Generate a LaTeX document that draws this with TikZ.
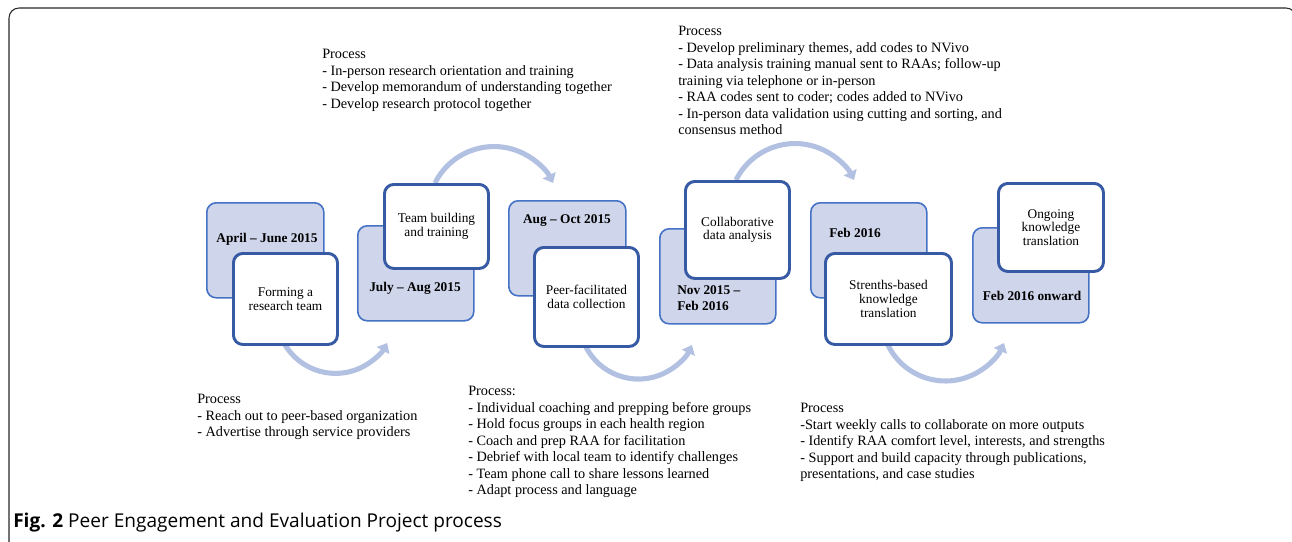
\documentclass[tikz,border=0pt]{standalone}
\usepackage{fontspec}
\setmainfont{Liberation Serif}
\newfontfamily\capfont{Open Sans}
\usetikzlibrary{arrows.meta}
\usetikzlibrary{positioning}

\definecolor{backfill}{RGB}{207,213,234}
\definecolor{backline}{RGB}{68,114,196}
\definecolor{frontline}{RGB}{55,90,165}
\definecolor{flowcol}{RGB}{178,193,226}
\definecolor{framecol}{RGB}{40,40,40}

\begin{document}
\begin{tikzpicture} [
  x=0.75pt, y=0.75pt,
  every node/.style={font=\fontsize{10}{10.2}\selectfont},
  back/.style={draw=backline, line width=1.2pt, fill=backfill, rounded corners=7pt,
    anchor=north west, minimum width=87pt, minimum height=71.25pt},
  front/.style={draw=frontline, line width=2.2pt, fill=white, rounded corners=7pt,
    anchor=north west, align=center, inner sep=0},
  datelbl/.style={font=\fontsize{10}{12.4}\selectfont\bfseries, inner sep=0},
  proc/.style={anchor=north west, align=left, inner sep=0, font=\fontsize{10.7}{12.4}\selectfont},
  flow/.style={draw=flowcol, line width=3.8pt, -{Triangle[length=6.5pt,width=10.5pt]}}
  ]
  \useasboundingbox (0,0) rectangle (1292,-542);
  \begin{scope}
    \clip (0,0) rectangle (1292,-542);
    \draw[framecol, line width=0.8pt, rounded corners=7.5pt] (9,-8) rectangle (1296,-560);
  \end{scope}

  % back boxes (dates)
  \node [back, minimum width=87.75pt] (b1) at (206,-202) {};
  \node [back] (b2) at (357,-225) {};
  \node [back, minimum width=87.75pt] (b3) at (508,-200) {};
  \node [back] (b4) at (659,-228) {};
  \node [back] (b5) at (810,-202) {};
  \node [back] (b6) at (972,-227) {};

  \node [datelbl] (d1) at (267,-239) {April -- June 2015};
  \node [datelbl] (d2) at (415,-288) {July -- Aug 2015};
  \node [datelbl] (d3) at (567,-221) {Aug -- Oct 2015};
  \node [datelbl, anchor=west, align=left] (d4) at (677,-298) {Nov 2015 --\\Feb 2016};
  \node [datelbl] (d5) at (855,-233) {Feb 2016};
  \node [datelbl] (d6) at (1032,-296) {Feb 2016 onward};

  % arrows between the steps
  \draw [flow] (284,-343) coordinate (s1) arc[start angle=209, end angle=331, radius=44.25pt];
  \draw [flow] (435,-183) coordinate (s2) arc[start angle=153.4, end angle=26.6, radius=49.5pt];
  \draw [flow] (585,-345) coordinate (s3) arc[start angle=205, end angle=335, radius=44.25pt];
  \draw [flow] (736,-180) coordinate (s4) arc[start angle=153.4, end angle=26.6, radius=49.5pt];
  \draw [flow] (887,-343) coordinate (s5) arc[start angle=204, end angle=336, radius=48pt];

  % front boxes (steps)
  \node [front, minimum width=78pt, minimum height=68.25pt] (f1) at (232,-252) {Forming a\\research team};
  \node [front, minimum width=78pt, minimum height=63pt] (f2) at (383,-183) {Team building\\and training};
  \node [front, minimum width=78pt, minimum height=74.25pt] (f3) at (533,-246) {Peer-facilitated\\data collection};
  \node [front, minimum width=78pt, minimum height=72.75pt] (f4) at (684,-180) {Collaborative\\data analysis};
  \node [front, minimum width=94.5pt, minimum height=68.25pt] (f5) at (824,-252) {Strenths-based\\knowledge\\translation};
  \node [front, minimum width=78.75pt, minimum height=66pt] (f6) at (997,-182) {Ongoing\\knowledge\\translation};

  % process notes
  \node [proc] (p1) at (197,-394) {Process\\- Reach out to peer-based organization\\- Advertise through service providers};
  \node [proc] (p2) at (322,-49) {Process\\- In-person research orientation and training\\- Develop memorandum of understanding together\\- Develop research protocol together};
  \node [proc] (p3) at (678,-26) {Process\\- Develop preliminary themes, add codes to NVivo\\- Data analysis training manual sent to RAAs; follow-up\\training via telephone or in-person\\- RAA codes sent to coder; codes added to NVivo\\- In-person data validation using cutting and sorting, and\\consensus method};
  \node [proc] (p4) at (468,-386) {Process:\\- Individual coaching and prepping before groups\\- Hold focus groups in each health region\\- Coach and prep RAA for facilitation\\- Debrief with local team to identify challenges\\- Team phone call to share lessons learned\\- Adapt process and language};
  \node [proc] (p5) at (800,-403) {Process\\-Start weekly calls to collaborate on more outputs\\- Identify RAA comfort level, interests, and strengths\\- Support and build capacity through publications,\\presentations, and case studies};

  \node [anchor=west, inner sep=0, font=\capfont\fontsize{14.3}{16}\selectfont] (cap) at (13,-523) {\textbf{Fig. 2} Peer Engagement and Evaluation Project process};
\end{tikzpicture}
\end{document}
